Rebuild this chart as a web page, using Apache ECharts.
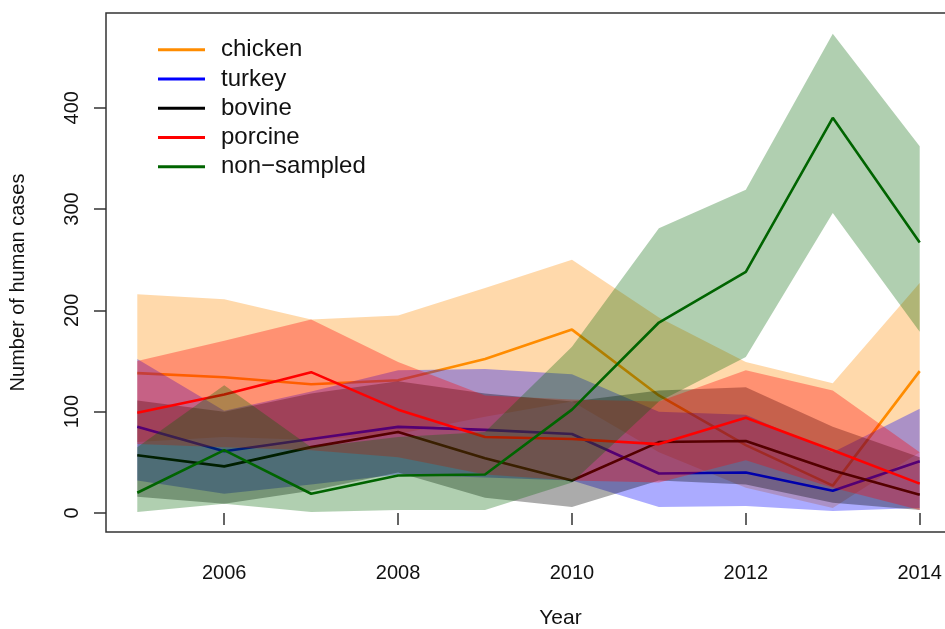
<!DOCTYPE html>
<html>
<head>
<meta charset="utf-8">
<script src="https://cdn.jsdelivr.net/npm/echarts@6/dist/echarts.min.js"></script>
<style>
  html, body { margin: 0; padding: 0; background: #ffffff; }
  #chart { width: 945px; height: 629px; }
</style>
</head>
<body>
<div id="chart"></div>
<script>
// Yearly estimated human cases by source, with uncertainty bands
const years = [2005, 2006, 2007, 2008, 2009, 2010, 2011, 2012, 2013, 2014];

const chickenMean = [138, 134, 127, 131, 152, 181, 116, 67, 27, 140];
const chickenLow  = [70, 75, 72, 78, 95, 110, 60, 25, 5, 60];
const chickenHigh = [216, 211, 191, 195, 222, 250, 193, 149, 128, 227];

const turkeyMean = [85, 61, 73, 85, 82, 78, 39, 40, 22, 51];
const turkeyLow  = [32, 19, 28, 38, 35, 32, 6, 7, 2, 5];
const turkeyHigh = [152, 101, 120, 141, 142, 137, 100, 97, 60, 103];

const bovineMean = [57, 46, 65, 80, 54, 32, 70, 71, 42, 18];
const bovineLow  = [16, 9, 22, 40, 15, 6, 32, 28, 10, 3];
const bovineHigh = [111, 100, 118, 130, 118, 110, 121, 124, 85, 55];

const porcineMean = [99, 117, 139, 102, 75, 73, 68, 94, 62, 29];
const porcineLow  = [68, 65, 62, 55, 38, 32, 30, 52, 25, 3];
const porcineHigh = [150, 170, 191, 149, 116, 112, 110, 141, 121, 60];

const nonSampledMean = [20, 62, 19, 37, 38, 102, 188, 238, 390, 267];
const nonSampledLow  = [1, 9, 1, 3, 3, 30, 110, 154, 296, 179];
const nonSampledHigh = [65, 126, 65, 75, 80, 164, 281, 319, 473, 362];

const xTickValues = [2006, 2008, 2010, 2012, 2014];
const yTickValues = [0, 100, 200, 300, 400];

const sources = [
  { name: 'chicken',     mean: chickenMean,    low: chickenLow,    high: chickenHigh,    line: '#FF8C00', band: 'rgba(255,140,0,0.33)' },
  { name: 'turkey',      mean: turkeyMean,     low: turkeyLow,     high: turkeyHigh,     line: '#0000FF', band: 'rgba(0,0,255,0.33)' },
  { name: 'bovine',      mean: bovineMean,     low: bovineLow,     high: bovineHigh,     line: '#000000', band: 'rgba(0,0,0,0.33)' },
  { name: 'porcine',     mean: porcineMean,    low: porcineLow,    high: porcineHigh,    line: '#FF0000', band: 'rgba(255,0,0,0.33)' },
  { name: 'non\u2212sampled', mean: nonSampledMean, low: nonSampledLow, high: nonSampledHigh, line: '#006400', band: 'rgba(0,100,0,0.31)' }
];

const FONT = "'Liberation Sans', Helvetica, Arial, sans-serif";

// Band polygon: upper bound left-to-right, then lower bound right-to-left
function bandRenderer(src) {
  return function (params, api) {
    if (params.dataIndex !== 0) return null;
    const pts = [];
    for (let k = 0; k < years.length; k++) pts.push(api.coord([years[k], src.high[k]]));
    for (let k = years.length - 1; k >= 0; k--) pts.push(api.coord([years[k], src.low[k]]));
    return {
      type: 'polygon',
      shape: { points: pts },
      style: { fill: src.band, stroke: null }
    };
  };
}

const series = [];
sources.forEach((s, i) => {
  const z = 2 + i * 2;
  series.push({
    name: s.name + ' band', type: 'custom', z: z, silent: true,
    data: years.map((y, k) => [y, s.low[k], s.high[k]]),
    encode: { x: 0, y: [1, 2] },
    renderItem: bandRenderer(s)
  });
  series.push({
    name: s.name, type: 'line', z: z + 1,
    data: years.map((y, k) => [y, s.mean[k]]),
    showSymbol: false,
    itemStyle: { color: s.line },
    lineStyle: { color: s.line, width: 2.6 }
  });
});

const chart = echarts.init(document.getElementById('chart'), null, { renderer: 'canvas' });
chart.setOption({
  animation: false,
  backgroundColor: '#ffffff',
  textStyle: { fontFamily: FONT },
  grid: {
    left: 106, top: 13, width: 845, height: 519,
    containLabel: false, outerBoundsMode: 'none',
    show: true, borderColor: '#333333', borderWidth: 1.5, backgroundColor: 'transparent'
  },
  legend: {
    data: sources.map(s => s.name),
    orient: 'vertical',
    left: 153, top: 30,
    icon: 'rect', itemWidth: 47, itemHeight: 3, itemGap: 0,
    formatter: n => '{g|}' + n,
    textStyle: {
      fontFamily: FONT, fontSize: 24, color: '#111111', lineHeight: 29.3,
      rich: { g: { width: 11, lineHeight: 29.3 } }
    }
  },
  xAxis: {
    type: 'value', min: 2004.64, max: 2014.36,
    name: 'Year', nameLocation: 'middle', nameGap: 76,
    nameTextStyle: { fontFamily: FONT, fontSize: 21, color: '#111111', padding: [0, 0, 0, 64] },
    axisLine: { show: false },
    axisTick: { show: true, length: 12, customValues: xTickValues, lineStyle: { color: '#333333', width: 1.5 } },
    axisLabel: { customValues: xTickValues, formatter: v => String(v), fontSize: 20, color: '#111111', margin: 31, fontFamily: FONT },
    splitLine: { show: false }
  },
  yAxis: {
    type: 'value', min: -18.77, max: 493.5,
    name: 'Number of human cases', nameLocation: 'middle', nameGap: 78, nameRotate: 90,
    nameTextStyle: { fontFamily: FONT, fontSize: 20, color: '#111111', padding: [0, 20, 0, 0] },
    axisLine: { show: false },
    axisTick: { show: true, length: 12, customValues: yTickValues, lineStyle: { color: '#333333', width: 1.5 } },
    axisLabel: { customValues: yTickValues, formatter: v => String(v), rotate: 90, fontSize: 20, color: '#111111', margin: 24, fontFamily: FONT },
    splitLine: { show: false }
  },
  series: series
});
</script>
</body>
</html>
